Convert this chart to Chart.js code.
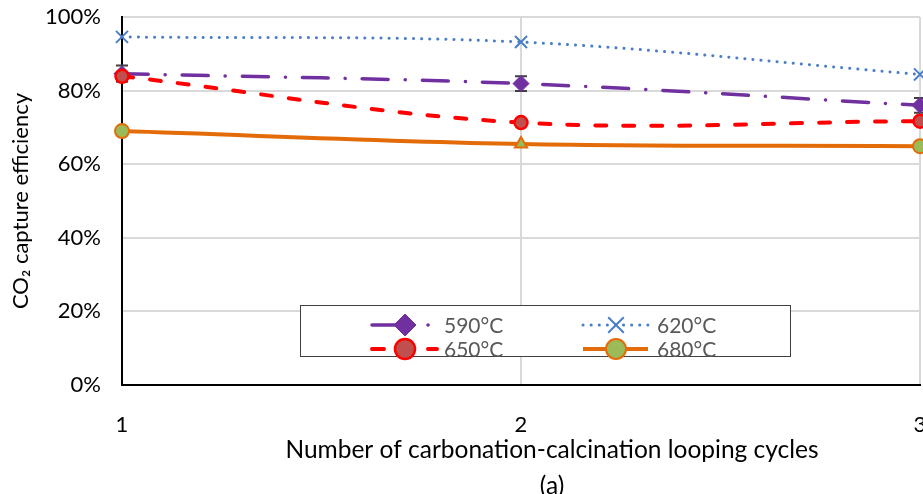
<!DOCTYPE html>
<html>
<head>
<meta charset="utf-8">
<script src="https://cdn.jsdelivr.net/npm/chart.js@4/dist/chart.umd.min.js"></script>
<style>
  html, body { margin: 0; padding: 0; background: #fff; overflow: hidden; }
  #wrap { width: 923px; height: 494px; position: relative; }
  #captureChart { display: block; }
</style>
</head>
<body>
<div id="wrap"><canvas id="captureChart"></canvas></div>
<script>
// data
const cycles = ['1', '2', '3'];
const eff590 = [84.6, 81.9, 76.0];
const err590 = [2.2, 2.0, 2.0];
const eff620 = [94.6, 93.2, 84.4];
const eff650 = [83.9, 71.3, 71.7];
const eff680 = [69.0, 65.5, 64.9];
const yTicks = [0, 20, 40, 60, 80, 100];
const xTitle = ['Number of carbonation-calcination looping cycles', '(a)'];

const FONT = 'Lato, "Open Sans", sans-serif';

// error bars on the 590°C series
const errorBars = {
  id: 'errorBars',
  beforeDatasetsDraw(chart) {
    const ctx = chart.ctx;
    const y = chart.scales.y;
    const meta = chart.getDatasetMeta(0);
    ctx.save();
    ctx.strokeStyle = '#404040';
    ctx.lineWidth = 2;
    meta.data.forEach((pt, i) => {
      const top = y.getPixelForValue(eff590[i] + err590[i]);
      const bot = y.getPixelForValue(eff590[i] - err590[i]);
      ctx.beginPath();
      ctx.moveTo(pt.x, top); ctx.lineTo(pt.x, bot);
      ctx.moveTo(pt.x - 6, top); ctx.lineTo(pt.x + 6, top);
      ctx.moveTo(pt.x - 6, bot); ctx.lineTo(pt.x + 6, bot);
      ctx.stroke();
    });
    ctx.restore();
  }
};

// boxed legend inside the plot, like the original
const legendBox = {
  id: 'legendBox',
  afterDatasetsDraw(chart) {
    const ctx = chart.ctx;
    ctx.save();
    ctx.fillStyle = '#fff';
    ctx.fillRect(300.5, 305.5, 490, 51);
    ctx.strokeStyle = '#404040';
    ctx.lineWidth = 1;
    ctx.strokeRect(300.5, 305.5, 490, 51);
    chart.data.datasets.forEach((ds, i) => {
      const col = i % 2, row = Math.floor(i / 2);
      const x0 = col ? 583 : 372;
      const yy = row ? 349 : 325;
      ctx.beginPath();
      ctx.strokeStyle = ds.borderColor;
      ctx.lineWidth = ds.borderWidth;
      ctx.lineCap = ds.borderCapStyle || 'butt';
      ctx.setLineDash(ds.legendDash || ds.borderDash || []);
      ctx.moveTo(x0, yy); ctx.lineTo(x0 + 65, yy);
      ctx.stroke();
      ctx.setLineDash([]);
      ctx.lineCap = 'butt';
      const style = Array.isArray(ds.pointStyle) ? ds.pointStyle[0] : ds.pointStyle;
      ctx.fillStyle = ds.pointBackgroundColor;
      ctx.strokeStyle = ds.pointBorderColor;
      ctx.lineWidth = ds.pointBorderWidth;
      Chart.helpers.drawPoint(ctx, {
        pointStyle: style, rotation: 0,
        radius: ds.legendRadius, borderWidth: ds.pointBorderWidth
      }, x0 + 33, yy);
      ctx.fillStyle = '#595959';
      ctx.font = '21px ' + FONT;
      ctx.textBaseline = 'middle';
      ctx.textAlign = 'left';
      ctx.fillText(ds.label, col ? 657 : 444, yy + 1);
    });
    ctx.restore();
  }
};

// x-axis title sits right of centre in the original, so draw it here
const xAxisTitle = {
  id: 'xAxisTitle',
  afterDraw(chart) {
    const ctx = chart.ctx;
    ctx.save();
    ctx.fillStyle = '#000';
    ctx.font = '24.5px ' + FONT;
    ctx.textAlign = 'center';
    ctx.textBaseline = 'middle';
    ctx.fillText(xTitle[0], 552, 450);
    ctx.fillText(xTitle[1], 552, 486);
    ctx.restore();
  }
};

new Chart(document.getElementById('captureChart'), {
  type: 'line',
  data: {
    labels: cycles,
    datasets: [
      {
        label: '590°C', data: eff590, order: 4,
        borderColor: '#7030A0', borderWidth: 3.5, borderCapStyle: 'round',
        borderDash: [26, 17, 0.1, 17], legendDash: [40, 16, 0.1, 20],
        pointStyle: 'rectRot', pointRadius: 8, legendRadius: 11,
        pointBackgroundColor: '#7030A0', pointBorderColor: '#7030A0', pointBorderWidth: 1
      },
      {
        label: '620°C', data: eff620, order: 3,
        borderColor: '#4A7EC6', borderWidth: 3, borderCapStyle: 'round',
        borderDash: [0.1, 8],
        pointStyle: 'crossRot', pointRadius: 8.5, legendRadius: 11,
        pointBackgroundColor: '#4A7EC6', pointBorderColor: '#4A7EC6', pointBorderWidth: 2
      },
      {
        label: '650°C', data: eff650, order: 2,
        borderColor: '#FF0000', borderWidth: 4, borderCapStyle: 'round',
        borderDash: [11, 17], legendDash: [12, 44, 12, 0],
        pointStyle: 'circle', pointRadius: 6.5, legendRadius: 10,
        pointBackgroundColor: '#C0504D', pointBorderColor: '#FF0000', pointBorderWidth: 2.5
      },
      {
        label: '680°C', data: eff680, order: 1,
        borderColor: '#E36C09', borderWidth: 4,
        pointStyle: ['circle', 'triangle', 'circle'], pointRadius: 7, legendRadius: 10,
        pointBackgroundColor: '#9BBB59', pointBorderColor: '#E36C09', pointBorderWidth: 2
      }
    ]
  },
  options: {
    responsive: true,
    maintainAspectRatio: false,
    animation: false,
    layout: { autoPadding: false, padding: { top: 17, right: 3, left: 0, bottom: 0 } },
    elements: { line: { tension: 0.35 } },
    datasets: { line: { clip: false } },
    plugins: {
      legend: { display: false },
      tooltip: { enabled: false }
    },
    scales: {
      x: {
        afterFit: s => { s.height = 109; s.paddingLeft = 0; s.paddingRight = 0; },
        grid: { color: '#D9D9D9', lineWidth: 2, drawTicks: true, tickLength: 27, tickColor: 'rgba(0,0,0,0)' },
        border: { color: '#000', width: 2 },
        ticks: { color: '#000', font: { family: FONT, size: 22 }, padding: 0 }
      },
      y: {
        min: 0, max: 100,
        afterFit: s => { s.width = 122; },
        afterBuildTicks: s => { s.ticks = yTicks.map(v => ({ value: v })); },
        grid: { color: '#D9D9D9', lineWidth: 2, drawTicks: true, tickLength: 21, tickColor: 'rgba(0,0,0,0)' },
        border: { color: '#000', width: 2 },
        ticks: {
          color: '#000', font: { family: FONT, size: 22 }, padding: 0,
          callback: v => v + '%'
        },
        title: {
          display: true,
          text: 'CO₂ capture efficiency',
          color: '#000',
          font: { family: FONT, size: 22 },
          padding: { top: 8, bottom: 0 }
        }
      }
    }
  },
  plugins: [errorBars, legendBox, xAxisTitle]
});
</script>
</body>
</html>
